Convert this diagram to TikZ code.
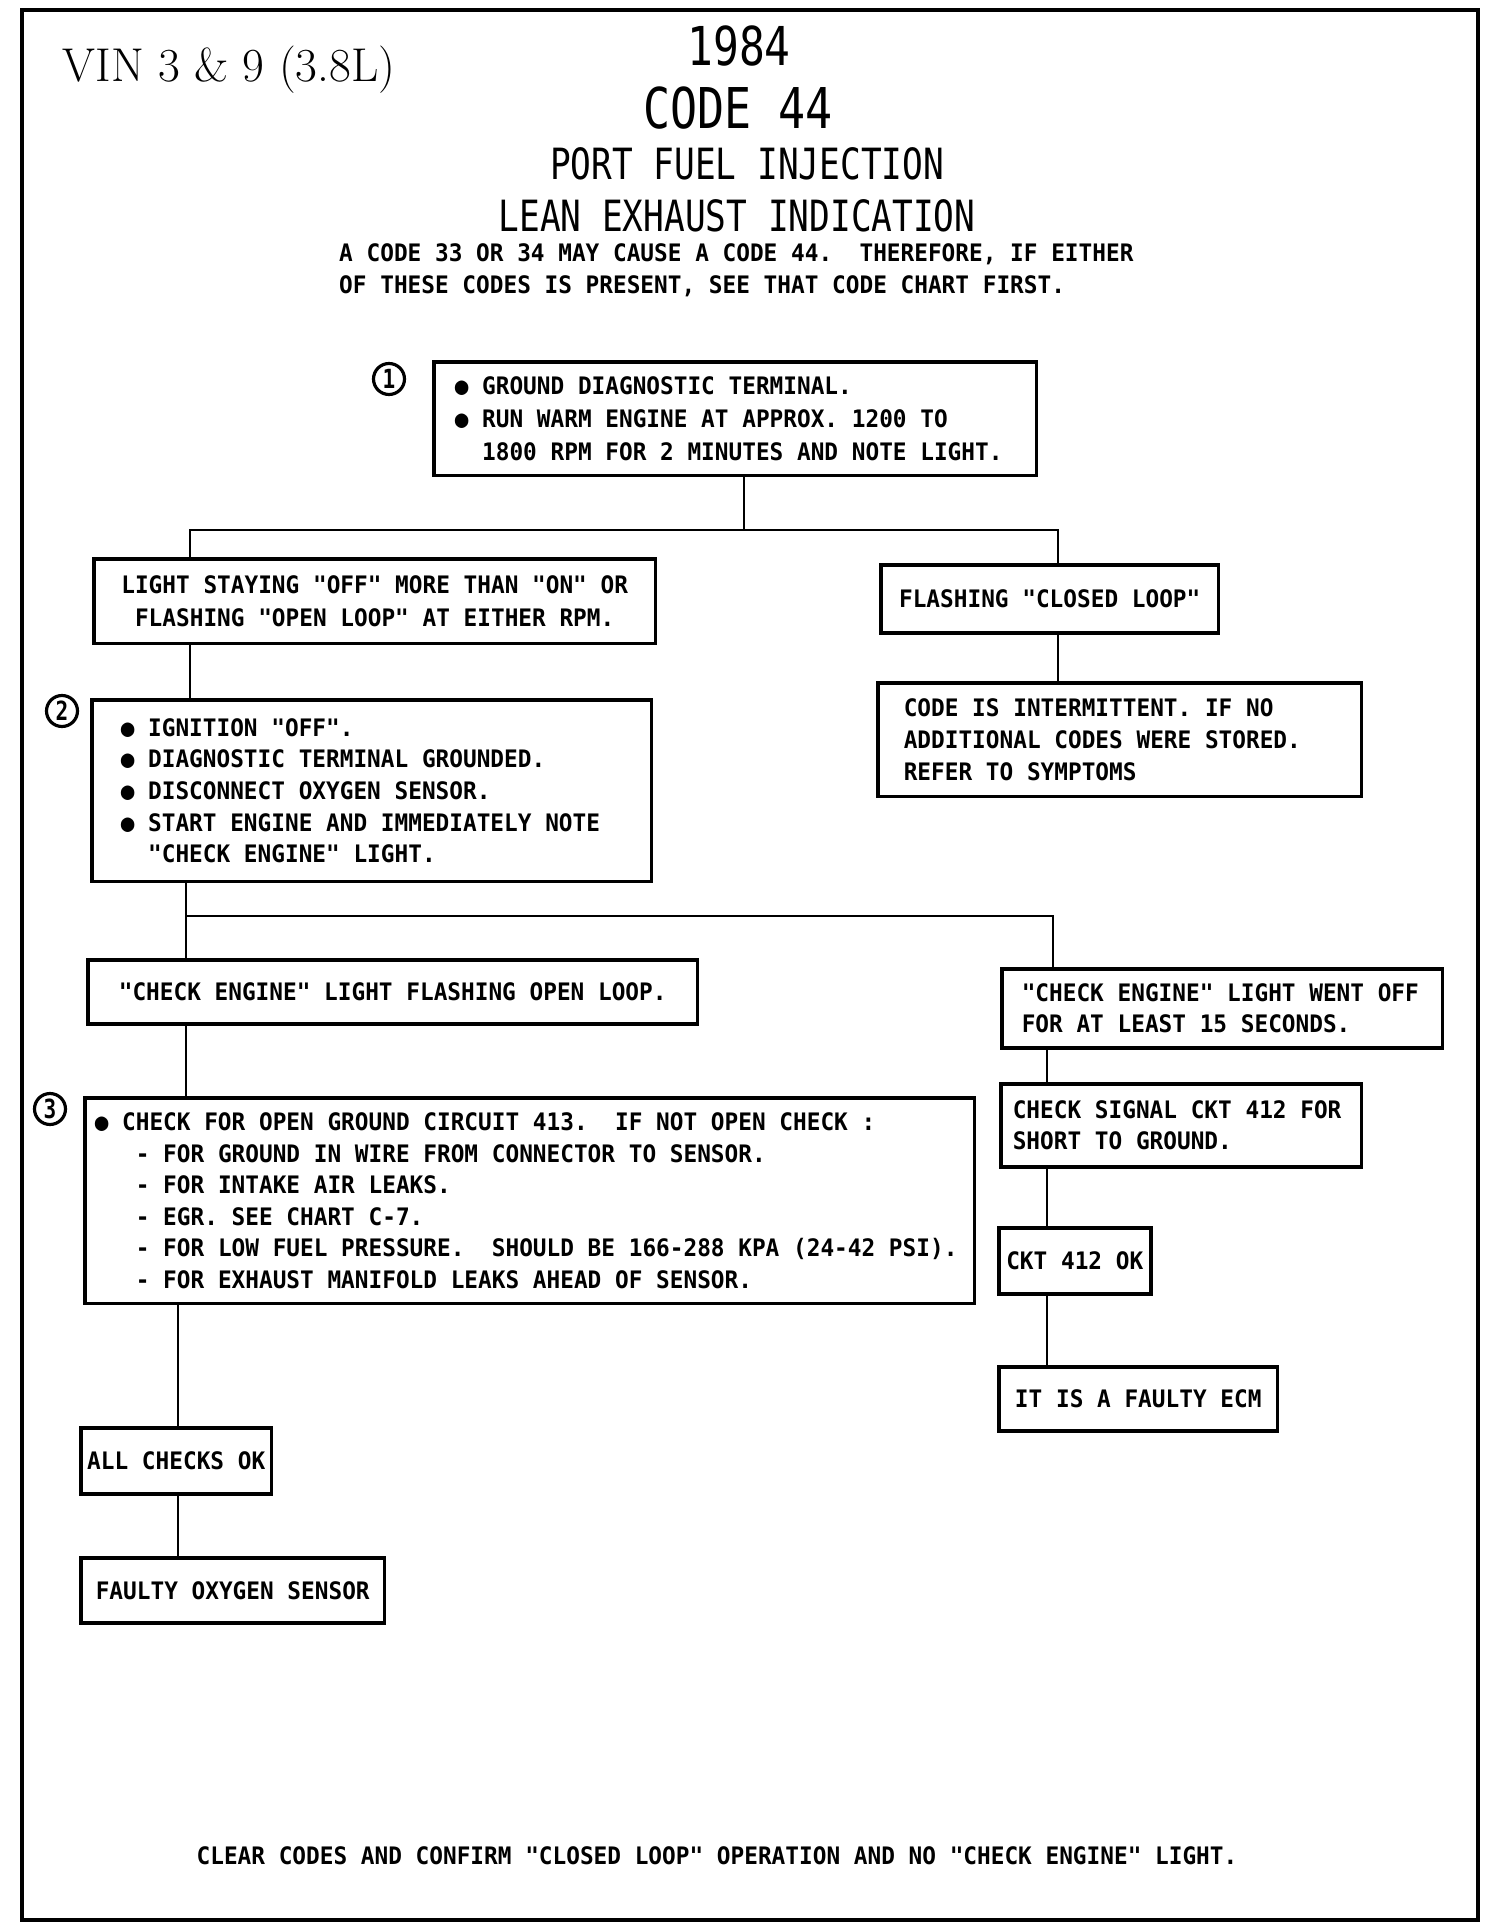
\documentclass[tikz,border=0pt]{standalone}
\usepackage{fontspec}
\setmonofont{DejaVu Sans Mono}[FakeStretch=0.945]
\newfontfamily\titlefont{DejaVu Sans Mono}[FakeStretch=0.8]
\newcommand{\plotfont}{\ttfamily\bfseries\fontsize{13.7}{18}\selectfont}
\frenchspacing

\begin{document}
\begin{tikzpicture}[x=0.02cm,y=-0.02cm,line width=1.4pt,font=\plotfont,
  box/.style={draw,line width=2pt,anchor=north west,inner ysep=0pt,align=left,
    execute at begin node={\spaceskip=0pt\xspaceskip=0pt\relax}},
  stepnum/.style={draw,circle,line width=1.8pt,minimum size=0.62cm,inner sep=0pt,
    font=\titlefont\bfseries\fontsize{15}{15}\selectfont},
  pageframe/.style={line width=1.8pt}]
  \useasboundingbox (0,0) rectangle (1504,1932);
  \draw[pageframe] (22,10) rectangle (1478,1920);

  % 标题
  \node[font=\fontsize{27}{32}\selectfont] (vin) at (229,70) {VIN 3 \& 9 (3.8L)};
  \node[font=\titlefont\fontsize{30.5}{36}\selectfont] (year) at (739,46) {1984};
  \node[font=\titlefont\fontsize{32}{38}\selectfont] (code) at (738,108) {CODE 44};
  \node[font=\titlefont\fontsize{24.5}{29}\selectfont] (pfi) at (747,164) {PORT FUEL INJECTION};
  \node[font=\titlefont\fontsize{24.5}{29}\selectfont] (lean) at (737,216) {LEAN EXHAUST INDICATION};
  \node[anchor=west,inner sep=0pt,align=left] (note) at (338,270)
    {A CODE 33 OR 34 MAY CAUSE A CODE 44.~ THEREFORE, IF EITHER\\
     OF THESE CODES IS PRESENT, SEE THAT CODE CHART FIRST.};

  % 第一步
  \node[stepnum] (n1) at (389,379) {1};
  \node[box,text width=11.22cm,inner xsep=0.42cm,minimum height=2.28cm,
    font=\ttfamily\bfseries\fontsize{13.7}{19}\selectfont] (b1) at (432,360)
    {● GROUND DIAGNOSTIC TERMINAL.\\
     ● RUN WARM ENGINE AT APPROX. 1200 TO\\
     \phantom{XX}1800 RPM FOR 2 MINUTES AND NOTE LIGHT.};
  \node[box,align=center,text width=10.44cm,inner xsep=0.4cm,minimum height=1.7cm,
    font=\ttfamily\bfseries\fontsize{13.7}{19}\selectfont] (b2) at (92,557)
    {LIGHT STAYING "OFF" MORE THAN "ON" OR\\
     FLASHING "OPEN LOOP" AT EITHER RPM.};
  \node[box,align=center,text width=6.36cm,inner xsep=0.2cm,minimum height=1.36cm] (b3) at (879,563)
    {FLASHING "CLOSED LOOP"};
  \node[box,text width=8.64cm,inner xsep=0.52cm,minimum height=2.28cm] (b4) at (876,681)
    {CODE IS INTERMITTENT. IF NO\\
     ADDITIONAL CODES WERE STORED.\\
     REFER TO SYMPTOMS};

  % 第二步
  \node[stepnum] (n2) at (62,711) {2};
  \node[box,text width=10.04cm,inner xsep=0.58cm,minimum height=3.64cm] (b5) at (90,698)
    {● IGNITION "OFF".\\
     ● DIAGNOSTIC TERMINAL GROUNDED.\\
     ● DISCONNECT OXYGEN SENSOR.\\
     ● START ENGINE AND IMMEDIATELY NOTE\\
     \phantom{XX}"CHECK ENGINE" LIGHT.};
  \node[box,align=center,text width=11.4cm,inner xsep=0.4cm,minimum height=1.28cm] (b6) at (86,958)
    {"CHECK ENGINE" LIGHT FLASHING OPEN LOOP.};
  \node[box,text width=8.02cm,inner xsep=0.4cm,minimum height=1.58cm] (b7) at (1000,967)
    {"CHECK ENGINE" LIGHT WENT OFF\\
     FOR AT LEAST 15 SECONDS.};

  % 第三步
  \node[stepnum] (n3) at (50,1109) {3};
  \node[box,text width=17.4cm,inner xsep=0.2cm,minimum height=4.12cm] (b8) at (83,1096)
    {● CHECK FOR OPEN GROUND CIRCUIT 413.~ IF NOT OPEN CHECK :\\
     \phantom{XXX}- FOR GROUND IN WIRE FROM CONNECTOR TO SENSOR.\\
     \phantom{XXX}- FOR INTAKE AIR LEAKS.\\
     \phantom{XXX}- EGR. SEE CHART C-7.\\
     \phantom{XXX}- FOR LOW FUEL PRESSURE.~ SHOULD BE 166-288 KPA (24-42 PSI).\\
     \phantom{XXX}- FOR EXHAUST MANIFOLD LEAKS AHEAD OF SENSOR.};
  \node[box,text width=6.74cm,inner xsep=0.24cm,minimum height=1.66cm] (b9) at (999,1082)
    {CHECK SIGNAL CKT 412 FOR\\
     SHORT TO GROUND.};
  \node[box,align=center,text width=2.84cm,inner xsep=0.1cm,minimum height=1.32cm] (b10) at (997,1226)
    {CKT 412 OK};
  \node[box,align=center,text width=5.18cm,inner xsep=0.2cm,minimum height=1.28cm] (b11) at (997,1365)
    {IT IS A FAULTY ECM};
  \node[box,align=center,text width=3.7cm,inner xsep=0.06cm,minimum height=1.32cm] (b12) at (79,1426)
    {ALL CHECKS OK};
  \node[box,align=center,text width=5.68cm,inner xsep=0.2cm,minimum height=1.3cm] (b13) at (79,1556)
    {FAULTY OXYGEN SENSOR};

  \node (clear) at (717,1856)
    {CLEAR CODES AND CONFIRM "CLOSED LOOP" OPERATION AND NO "CHECK ENGINE" LIGHT.};

  % 连线
  \coordinate (j1) at (744,530);
  \coordinate (j1l) at (190,530);
  \coordinate (j1r) at (1058,530);
  \draw (b1.south -| j1) -- (j1);
  \draw (b2.north -| j1l) -- (j1l) -- (j1r) -- (b3.north -| j1r);
  \draw (b2.south -| j1l) -- (b5.north -| j1l);
  \draw (b3.south -| j1r) -- (b4.north -| j1r);

  \coordinate (j2l) at (186,916);
  \coordinate (j2r) at (1053,916);
  \draw (b5.south -| j2l) -- (b6.north -| j2l);
  \draw (j2l) -- (j2r) -- (b7.north -| j2r);
  \draw (b6.south -| j2l) -- (b8.north -| j2l);

  \coordinate (rt) at (1047,1000);
  \draw (b7.south -| rt) -- (b9.north -| rt);
  \draw (b9.south -| rt) -- (b10.north -| rt);
  \draw (b10.south -| rt) -- (b11.north -| rt);

  \coordinate (lt) at (178,1300);
  \draw (b8.south -| lt) -- (b12.north -| lt);
  \draw (b12.south -| lt) -- (b13.north -| lt);
\end{tikzpicture}
\end{document}
